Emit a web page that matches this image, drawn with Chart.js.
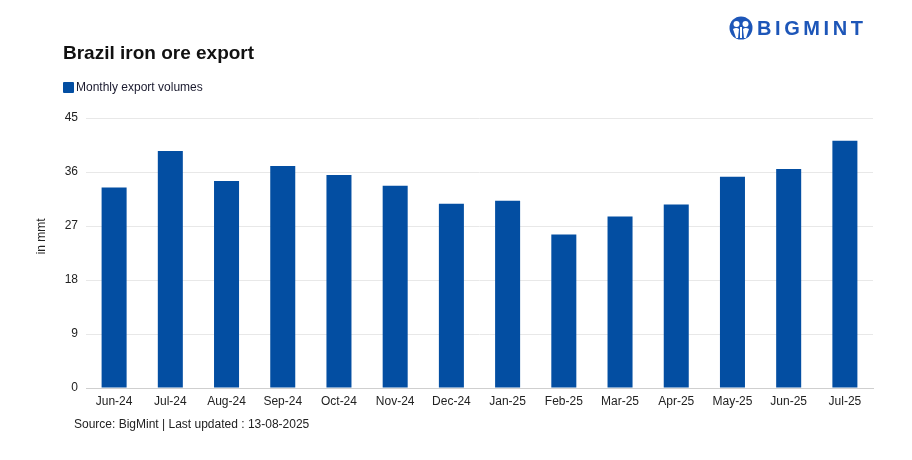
<!DOCTYPE html>
<html>
<head>
<meta charset="utf-8">
<script src="https://cdn.jsdelivr.net/npm/chart.js@4/dist/chart.umd.min.js"></script>
<style>
  html, body { margin: 0; padding: 0; background: #fff; }
  body { width: 912px; height: 460px; position: relative; overflow: hidden; font-family: "Liberation Sans", Arial, sans-serif; }
  #wrap { position: absolute; left: 0; top: 0; width: 912px; height: 460px; }
  .title { position: absolute; left: 63px; top: 42px; font-size: 19px; font-weight: bold; color: #111; }
  .legend { position: absolute; left: 63px; top: 80px; font-size: 12px; color: #1a1a2e; display: flex; align-items: center; }
  .legend span.box { display: inline-block; width: 11px; height: 11px; background: #034ea2; border-radius: 1px; margin-right: 2px; }
  .source { position: absolute; left: 74px; top: 417px; font-size: 12px; color: #222; }
  .logo { position: absolute; left: 729px; top: 16px; display: flex; align-items: center; }
  .logo .txt { font-size: 20px; font-weight: bold; color: #1d56b8; letter-spacing: 3.6px; margin-left: 4px; }
</style>
</head>
<body>
<div id="wrap"><canvas id="exportChart" width="912" height="460"></canvas></div>
<div class="title">Brazil iron ore export</div>
<div class="legend"><span class="box"></span>Monthly export volumes</div>
<div class="source">Source: BigMint | Last updated : 13-08-2025</div>
<div class="logo">
  <svg width="24" height="24" viewBox="0 0 24 24">
    <circle cx="12" cy="12" r="11.5" fill="#1d56b8"/>
    <circle cx="7.5" cy="8" r="3" fill="#fff"/>
    <circle cx="16.5" cy="8" r="3" fill="#fff"/>
    <path d="M4 13 Q7.5 11 10 13 L9 22 L7 22 Z" fill="#fff"/>
    <path d="M20 13 Q16.5 11 14 13 L15 22 L17 22 Z" fill="#fff"/>
    <rect x="11" y="11" width="2" height="11" fill="#fff"/>
  </svg>
  <span class="txt">BIGMINT</span>
</div>
<script>
// data (million tonnes)
const months = ['Jun-24', 'Jul-24', 'Aug-24', 'Sep-24', 'Oct-24', 'Nov-24', 'Dec-24',
                'Jan-25', 'Feb-25', 'Mar-25', 'Apr-25', 'May-25', 'Jun-25', 'Jul-25'];
const exportVolumes = [33.4, 39.5, 34.5, 37.0, 35.5, 33.7, 30.7,
                       31.2, 25.6, 28.6, 30.6, 35.2, 36.5, 41.2];
const yTicks = [0, 9, 18, 27, 36, 45];

const ctx = document.getElementById('exportChart').getContext('2d');
new Chart(ctx, {
    type: 'bar',
    data: {
        labels: months,
        datasets: [{
            label: 'Monthly export volumes',
            data: exportVolumes,
            backgroundColor: '#034ea2',
            categoryPercentage: 1,
            barPercentage: 0.445
        }]
    },
    options: {
        responsive: false,
        animation: false,
        layout: { padding: { left: 30, right: 39, top: 118, bottom: 52 } },
        font: { family: '"Liberation Sans", Arial, sans-serif' },
        scales: {
            x: {
                grid: { display: false, drawTicks: false },
                border: { color: '#cfcfcf' },
                ticks: { color: '#222', font: { size: 12 }, padding: 6, maxRotation: 0 },
                afterFit: s => { s.height = 20; }
            },
            y: {
                min: 0,
                max: 45,
                afterBuildTicks: s => { s.ticks = yTicks.map(v => ({ value: v })); },
                grid: { color: '#e8e8e8', drawTicks: false },
                border: { display: false },
                ticks: { color: '#222', font: { size: 12 }, padding: 8 },
                // leading spaces nudge the label up a bit, like the original
                title: { display: true, text: '          in mmt', color: '#222', font: { size: 12 }, padding: 4 },
                afterFit: s => { s.width = 56; }
            }
        },
        plugins: {
            legend: { display: false },
            tooltip: { enabled: false }
        }
    }
});
</script>
</body>
</html>
